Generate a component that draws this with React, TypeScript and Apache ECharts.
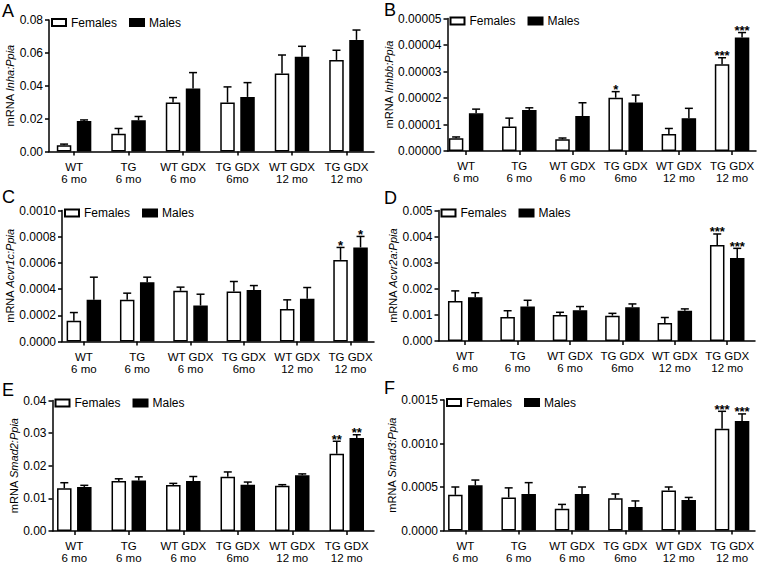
import React, { useEffect, useRef } from "react";
import * as echarts from "echarts";

const categories = ["WT\n6 mo", "TG\n6 mo", "WT GDX\n6 mo", "TG GDX\n6mo", "WT GDX\n12 mo", "TG GDX\n12 mo"];
const seriesNames = ["Females", "Males"];

// Panel A: Inha
const inhaFemale = [0.0038, 0.0108, 0.0298, 0.0298, 0.0474, 0.0557];
const inhaFemaleSem = [0.0007, 0.0032, 0.0030, 0.0095, 0.0113, 0.0059];
const inhaMale = [0.0186, 0.0190, 0.0383, 0.0332, 0.0577, 0.0679];
const inhaMaleSem = [0.0006, 0.0023, 0.0097, 0.0087, 0.0063, 0.0060];
const inhaFemaleStars = ["", "", "", "", "", ""];
const inhaMaleStars = ["", "", "", "", "", ""];

// Panel B: Inhbb
const inhbbFemale = [0.48e-5, 0.92e-5, 0.44e-5, 2.01e-5, 0.64e-5, 3.27e-5];
const inhbbFemaleSem = [0.05e-5, 0.32e-5, 0.05e-5, 0.23e-5, 0.21e-5, 0.25e-5];
const inhbbMale = [1.42e-5, 1.55e-5, 1.32e-5, 1.83e-5, 1.24e-5, 4.28e-5];
const inhbbMaleSem = [0.16e-5, 0.08e-5, 0.50e-5, 0.28e-5, 0.37e-5, 0.19e-5];
const inhbbFemaleStars = ["", "", "", "*", "", "***"];
const inhbbMaleStars = ["", "", "", "", "", "***"];

// Panel C: Acvr1c
const acvr1cFemale = [0.000158, 0.000318, 0.000387, 0.000382, 0.000249, 0.000623];
const acvr1cFemaleSem = [0.000063, 0.000051, 0.000028, 0.000076, 0.000069, 0.000095];
const acvr1cMale = [0.000318, 0.000453, 0.000275, 0.000394, 0.000326, 0.000718];
const acvr1cMaleSem = [0.000173, 0.000038, 0.000086, 0.000033, 0.000086, 0.000084];
const acvr1cFemaleStars = ["", "", "", "", "", "*"];
const acvr1cMaleStars = ["", "", "", "", "", "*"];

// Panel D: Acvr2a
const acvr2aFemale = [0.00153, 0.00092, 0.00100, 0.00097, 0.00069, 0.00368];
const acvr2aFemaleSem = [0.00039, 0.00024, 0.00010, 0.00009, 0.00021, 0.00042];
const acvr2aMale = [0.00168, 0.00132, 0.00118, 0.00129, 0.00116, 0.00318];
const acvr2aMaleSem = [0.00017, 0.00024, 0.00014, 0.00013, 0.00007, 0.00037];
const acvr2aFemaleStars = ["", "", "", "", "", "***"];
const acvr2aMaleStars = ["", "", "", "", "", "***"];

// Panel E: Smad2
const smad2Female = [0.0131, 0.0153, 0.0141, 0.0166, 0.0139, 0.0237];
const smad2FemaleSem = [0.0017, 0.0007, 0.0005, 0.0015, 0.0003, 0.0038];
const smad2Male = [0.0135, 0.0155, 0.0153, 0.0142, 0.0171, 0.0285];
const smad2MaleSem = [0.0005, 0.0011, 0.0014, 0.0008, 0.0004, 0.0010];
const smad2FemaleStars = ["", "", "", "", "", "**"];
const smad2MaleStars = ["", "", "", "", "", "**"];

// Panel F: Smad3
const smad3Female = [0.00041, 0.00038, 0.00025, 0.00037, 0.00046, 0.00117];
const smad3FemaleSem = [0.00009, 0.00011, 0.00005, 0.00005, 0.00004, 0.00020];
const smad3Male = [0.00052, 0.00042, 0.00042, 0.00027, 0.00035, 0.00126];
const smad3MaleSem = [0.00006, 0.00013, 0.00008, 0.00007, 0.00003, 0.00008];
const smad3FemaleStars = ["", "", "", "", "", "***"];
const smad3MaleStars = ["", "", "", "", "", "***"];

const letters = ["A", "B", "C", "D", "E", "F"];
const genes = ["Inha:Ppia", "Inhbb:Ppia", "Acvr1c:Ppia", "Acvr2a:Ppia", "Smad2:Ppia", "Smad3:Ppia"];
const yMax = [0.08, 0.00005, 0.001, 0.005, 0.04, 0.0015];
const yInterval = [0.02, 0.00001, 0.0002, 0.001, 0.01, 0.0005];
const yDecimals = [2, 5, 4, 3, 2, 4];

const panelData = [
  [inhaFemale, inhaFemaleSem, inhaMale, inhaMaleSem, inhaFemaleStars, inhaMaleStars],
  [inhbbFemale, inhbbFemaleSem, inhbbMale, inhbbMaleSem, inhbbFemaleStars, inhbbMaleStars],
  [acvr1cFemale, acvr1cFemaleSem, acvr1cMale, acvr1cMaleSem, acvr1cFemaleStars, acvr1cMaleStars],
  [acvr2aFemale, acvr2aFemaleSem, acvr2aMale, acvr2aMaleSem, acvr2aFemaleStars, acvr2aMaleStars],
  [smad2Female, smad2FemaleSem, smad2Male, smad2MaleSem, smad2FemaleStars, smad2MaleStars],
  [smad3Female, smad3FemaleSem, smad3Male, smad3MaleSem, smad3FemaleStars, smad3MaleStars],
];

// layout (pixels)
const layout = [
  { ax: 49, top: 20, zero: 151.5, right: 374, xMin: -0.46, xMax: 5.505, nameGap: 21, lx: 2, ly: 2 },
  { ax: 447.5, top: 18.5, zero: 151, right: 756, xMin: -0.35, xMax: 5.45, nameGap: 37, lx: 384, ly: 1 },
  { ax: 62, top: 210.5, zero: 341.5, right: 374, xMin: -0.41, xMax: 5.44, nameGap: 34, lx: 2, ly: 188 },
  { ax: 438.5, top: 210.5, zero: 341, right: 755, xMin: -0.51, xMax: 5.53, nameGap: 31, lx: 384, ly: 189 },
  { ax: 52.5, top: 400.5, zero: 531.5, right: 374, xMin: -0.4, xMax: 5.5, nameGap: 28, lx: 2, ly: 381 },
  { ax: 444, top: 400, zero: 530.5, right: 755, xMin: -0.4, xMax: 5.43, nameGap: 37, lx: 384, ly: 379 },
];

const FONT = "Liberation Sans, Arial, Helvetica, sans-serif";
const BAR_W = 14.5;
const HALF_OFFSET = 10;

function makeErrorSeries(i: number, name: string, means: number[], sems: number[], stars: string[], offset: number) {
  return {
    type: "custom",
    name: name + " SEM",
    xAxisIndex: i,
    yAxisIndex: i,
    z: 3,
    silent: true,
    data: means.map((m, k) => [k, m, m + sems[k]]),
    renderItem: (params: any, api: any) => {
      const k = api.value(0);
      const base = api.coord([k, api.value(1)]);
      const top = api.coord([k, api.value(2)]);
      const x = base[0] + offset;
      const children: any[] = [
        { type: "line", shape: { x1: x, y1: base[1], x2: x, y2: top[1] }, style: { stroke: "#000", lineWidth: 1.5 } },
        { type: "line", shape: { x1: x - 4, y1: top[1], x2: x + 4, y2: top[1] }, style: { stroke: "#000", lineWidth: 1.5 } },
      ];
      const s = stars[params.dataIndex];
      if (s) {
        children.push({
          type: "text",
          x: x,
          y: top[1] - 2,
          style: { text: s, fill: "#000", font: "bold 13px " + FONT, textAlign: "center", textVerticalAlign: "middle" },
        });
      }
      return { type: "group", children };
    },
  };
}

export default function App() {
  const ref = useRef<HTMLDivElement>(null);
  useEffect(() => {
    document.body.style.margin = "0";
    const chart = echarts.init(ref.current!, null, { renderer: "svg" });
    const tickVals = categories.map((_, k) => k);
    const option: any = {
      animation: false,
      backgroundColor: "#fff",
      textStyle: { fontFamily: FONT },
      grid: layout.map((p) => ({ left: p.ax, top: p.top, width: p.right - p.ax, height: p.zero - p.top })),
      xAxis: layout.map((p, i) => ({
        type: "value",
        gridIndex: i,
        min: p.xMin,
        max: p.xMax,
        axisLine: { show: true, onZero: false, lineStyle: { color: "#000", width: 1.5 } },
        axisTick: { show: true, customValues: tickVals, length: 4, lineStyle: { color: "#000", width: 1.5 } },
        axisLabel: {
          customValues: tickVals,
          formatter: (v: number) => categories[Math.round(v)],
          fontSize: 11.5,
          lineHeight: 12,
          color: "#000",
          margin: 9,
          fontFamily: FONT,
        },
        splitLine: { show: false },
      })),
      yAxis: layout.map((p, i) => ({
        type: "value",
        gridIndex: i,
        min: 0,
        max: yMax[i],
        interval: yInterval[i],
        axisLine: { show: true, onZero: false, lineStyle: { color: "#000", width: 1.5 } },
        axisTick: { show: true, length: 4, lineStyle: { color: "#000", width: 1.5 } },
        axisLabel: { formatter: (v: number) => v.toFixed(yDecimals[i]), fontSize: 12, color: "#000", margin: 6, fontFamily: FONT },
        splitLine: { show: false },
        name: "mRNA {i|" + genes[i] + "}",
        nameLocation: "middle",
        nameGap: p.nameGap,
        nameTextStyle: {
          fontSize: 11,
          color: "#000",
          fontFamily: FONT,
          rich: { i: { fontStyle: "italic", fontSize: 11, color: "#000", fontFamily: FONT } },
        },
      })),
      legend: layout.map((p) => ({
        left: p.ax + 2,
        top: p.top - 3.5,
        orient: "horizontal",
        data: seriesNames,
        icon: "rect",
        itemWidth: 14,
        itemHeight: 7,
        itemGap: 12,
        padding: 0,
        selectedMode: false,
        textStyle: { fontSize: 12, color: "#000", fontFamily: FONT },
      })),
      graphic: layout.map((p, i) => ({
        type: "text",
        left: p.lx,
        top: p.ly,
        style: { text: letters[i], font: "18px " + FONT, fill: "#000" },
      })),
      series: [] as any[],
    };
    panelData.forEach((d, i) => {
      const [fm, fs, mm, ms, fst, mst] = d as any[];
      option.series.push({
        type: "bar",
        name: seriesNames[0],
        xAxisIndex: i,
        yAxisIndex: i,
        barWidth: BAR_W,
        barGap: "38%",
        data: fm.map((v: number, k: number) => [k, v]),
        itemStyle: { color: "#fff", borderColor: "#000", borderWidth: 1.5 },
      });
      option.series.push({
        type: "bar",
        name: seriesNames[1],
        xAxisIndex: i,
        yAxisIndex: i,
        barWidth: BAR_W,
        barGap: "38%",
        data: mm.map((v: number, k: number) => [k, v]),
        itemStyle: { color: "#000", borderColor: "#000", borderWidth: 1.5 },
      });
      option.series.push(makeErrorSeries(i, seriesNames[0], fm, fs, fst, -HALF_OFFSET));
      option.series.push(makeErrorSeries(i, seriesNames[1], mm, ms, mst, HALF_OFFSET));
    });
    chart.setOption(option);
    return () => chart.dispose();
  }, []);
  return <div ref={ref} style={{ position: "absolute", left: 0, top: 0, width: 764, height: 564 }} />;
}
